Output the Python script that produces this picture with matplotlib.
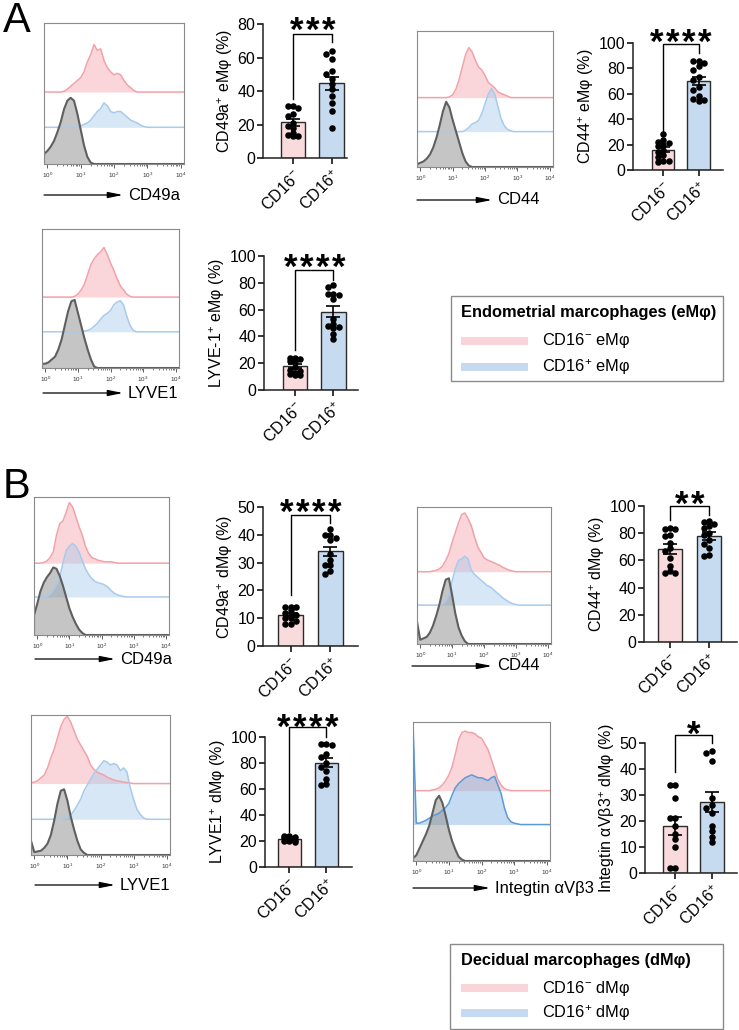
import numpy as np
import matplotlib
matplotlib.use("Agg")
import matplotlib.pyplot as plt
from matplotlib.patches import Rectangle

plt.rcParams['font.family'] = ['Liberation Sans', 'DejaVu Sans']
plt.rcParams['mathtext.fontset'] = 'custom'
plt.rcParams['mathtext.rm'] = 'Liberation Sans'
plt.rcParams['mathtext.it'] = 'Liberation Sans:italic'
plt.rcParams['mathtext.bf'] = 'Liberation Sans:bold'

W, H = 739, 1030

groups = ["CD16$^{-}$", "CD16$^{+}$"]

# percent positive cells per donor
a_cd49a_neg = [31, 31, 30, 26, 25, 21, 19, 18, 15, 14, 13, 13]
a_cd49a_pos = [64, 62, 59, 52, 50, 47, 44, 41, 37, 33, 28, 18]
a_cd44_neg = [28, 24, 22, 21, 20, 19, 16, 14, 12, 10, 7, 7, 6]
a_cd44_pos = [86, 86, 84, 82, 79, 73, 71, 65, 63, 58, 56, 55, 54]
a_lyve_neg = [24, 24, 23, 23, 22, 21, 17, 15, 14, 13, 12, 11, 11]
a_lyve_pos = [78, 77, 72, 72, 71, 68, 53, 49, 48, 47, 46, 42, 38]
b_cd49a_neg = [14, 14, 14, 13, 12, 11, 11, 10, 10, 9, 8, 8]
b_cd49a_pos = [42, 40, 40, 39, 38, 33, 31, 29, 29, 27, 26]
b_cd44_neg = [84, 83, 83, 79, 78, 73, 69, 67, 62, 56, 52, 51, 51]
b_cd44_pos = [89, 88, 87, 85, 84, 80, 79, 75, 72, 69, 64, 63]
b_lyve_neg = [24, 24, 23, 23, 22, 22, 21, 21, 20, 20, 19]
b_lyve_pos = [95, 95, 94, 87, 85, 80, 77, 74, 68, 64, 63]
b_itg_neg = [34, 34, 29, 21, 21, 18, 15, 13, 10, 2, 2]
b_itg_pos = [47, 46, 43, 29, 26, 25, 23, 18, 16, 14, 12]

stars = [3, 4, 4, 4, 2, 4, 1]

# flow histograms: start (log10 units, step 0.1) and heights (fraction of box)
a1_pink_x0, a1_pink = 0.4, [0, .005, .02, .04, .06, .08, .10, .14, .21, .26, .33, .29, .30, .22, .17, .14, .12, .13, .12, .08, .05, .03, .01, 0]
a1_blue_x0, a1_blue = 0.9, [0, .01, .02, .03, .05, .08, .11, .13, .17, .15, .11, .10, .11, .11, .09, .07, .05, .04, .03, .015, .005, 0]
a1_gray_x0, a1_gray = -0.1, [.07, .09, .12, .16, .22, .29, .38, .44, .46, .44, .35, .24, .13, .05, .01, 0]

a2_pink_x0, a2_pink = 0.8, [0, .005, .02, .06, .13, .22, .31, .36, .33, .27, .22, .20, .16, .11, .09, .07, .04, .03, .02, .01, 0]
a2_blue_x0, a2_blue = 1.3, [0, .01, .03, .055, .065, .08, .13, .20, .27, .31, .27, .18, .09, .04, .015, .005, 0]
a2_gray_x0, a2_gray = -0.1, [.02, .03, .04, .06, .09, .14, .21, .30, .40, .47, .43, .34, .26, .18, .10, .04, .01, 0]

a3_pink_x0, a3_pink = 0.8, [0, .005, .02, .05, .09, .16, .23, .27, .30, .32, .35, .30, .24, .19, .13, .08, .05, .02, .005, 0]
a3_blue_x0, a3_blue = 1.1, [0, .005, .01, .02, .04, .06, .09, .115, .13, .15, .19, .21, .22, .19, .11, .045, .01, 0]
a3_gray_x0, a3_gray = -0.1, [.03, .03, .04, .06, .08, .13, .20, .30, .40, .47, .48, .39, .30, .21, .13, .06, .01, 0]

b1_pink_x0, b1_pink = 0.1, [0, .005, .015, .04, .08, .20, .28, .30, .36, .43, .40, .33, .26, .20, .12, .07, .04, .03, .02, .015, .01, .01, .01, .005, 0]
b1_blue_x0, b1_blue = 0.2, [0, .005, .02, .05, .09, .14, .24, .33, .36, .38, .36, .32, .26, .20, .16, .13, .11, .10, .095, .085, .07, .045, .026, .015, .008, .003, 0]
b1_gray_x0, b1_gray = -0.1, [.14, .22, .31, .37, .41, .44, .48, .47, .42, .35, .27, .19, .13, .08, .04, .015, 0]

b2_pink_x0, b2_pink = 0.3, [0, .005, .01, .02, .04, .08, .13, .21, .28, .35, .41, .42, .38, .33, .25, .18, .14, .10, .085, .075, .065, .055, .045, .03, .02, .01, .005, 0]
b2_blue_x0, b2_blue = 0.6, [0, .01, .03, .08, .17, .26, .32, .33, .35, .33, .25, .22, .20, .18, .16, .14, .13, .11, .09, .07, .05, .035, .02, .01, .005, 0]
b2_gray_x0, b2_gray = -0.1, [.16, .03, .04, .05, .08, .13, .20, .28, .38, .46, .47, .35, .22, .12, .06, .02, 0]

b3_pink_x0, b3_pink = -0.1, [.005, .01, .02, .04, .06, .11, .18, .24, .32, .40, .45, .47, .43, .37, .31, .27, .23, .19, .13, .10, .08, .07, .06, .045, .035, .025, .02, .015, .01, .007, .004, 0]
b3_blue_x0, b3_blue = 0.8, [0, .005, .01, .03, .06, .10, .14, .20, .24, .28, .32, .35, .38, .41, .40, .38, .39, .38, .34, .36, .33, .22, .14, .07, .035, .01, 0]
b3_gray_x0, b3_gray = -0.1, [.10, .02, .025, .03, .05, .08, .14, .24, .36, .45, .46, .38, .27, .18, .10, .04, .015, 0]

b4_pink_x0, b4_pink = 0.4, [0, .005, .01, .02, .04, .07, .11, .17, .26, .36, .41, .42, .41, .41, .40, .38, .37, .33, .29, .22, .15, .08, .04, .015, .005, 0]
b4_blue_x0, b4_blue = -0.1, [.72, .01, .01, .02, .03, .045, .06, .07, .08, .10, .12, .15, .21, .26, .29, .31, .33, .34, .35, .34, .33, .33, .32, .31, .33, .34, .28, .22, .12, .05, .02, .01, .005, 0]
b4_gray_x0, b4_gray = -0.1, [.02, .04, .09, .14, .19, .25, .34, .43, .46, .41, .32, .22, .14, .08, .03, .01, 0]

XL = (-0.1, 4.1)
PINK_LINE, PINK_FILL = '#f3a1a7', '#f4a6ad'
BLUE_LINE, BLUE_FILL = '#a6cbee', '#9ec5ea'
GRAY_LINE, GRAY_FILL = '#5f5f5f', '#8c8c8c'

fig = plt.figure(figsize=(W / 100, H / 100), dpi=100)


def px_axes(x0, y0, x1, y1):
    return fig.add_axes([x0 / W, 1 - y1 / H, (x1 - x0) / W, (y1 - y0) / H])


def curve(ax, x0, vals, base, line, fill, alpha, lw=1.1):
    xs = [XL[0]] + list(x0 + 0.1 * np.arange(len(vals))) + [XL[1]]
    ys = np.array([0] + list(vals) + [0]) + base
    ax.fill_between(xs, base, ys, color=fill, alpha=alpha, lw=0)
    ax.plot(xs, ys, color=line, lw=lw, solid_joinstyle='round')


def hist_panel(box, pink, blue, gray, bases=(0.5, 0.255), blue_style=None):
    ax = px_axes(*box)
    bl, bf, ba = blue_style or (BLUE_LINE, BLUE_FILL, 0.4)
    curve(ax, pink[0], pink[1], bases[0], PINK_LINE, PINK_FILL, 0.45)
    curve(ax, blue[0], blue[1], bases[1], bl, bf, ba)
    curve(ax, gray[0], gray[1], 0, GRAY_LINE, GRAY_FILL, 0.5, lw=1.5)
    ax.set_xlim(*XL)
    ax.set_ylim(0, 0.98)
    ax.set_yticks([])
    ax.set_xticks(range(5))
    ax.set_xticklabels(['10$^{%d}$' % k for k in range(5)], fontsize=4.5, color='#333333')
    minors = [k + np.log10(m) for k in range(4) for m in range(2, 10)]
    ax.set_xticks(minors, minor=True)
    ax.tick_params(axis='x', which='major', length=3, width=0.6, color='#444444', pad=2)
    ax.tick_params(axis='x', which='minor', length=1.5, width=0.5, color='#444444')
    for s in ax.spines.values():
        s.set_color('#8a8a8a')
        s.set_linewidth(0.8)
    return ax


def swarm_x(vals, center, sx, sy, d, half_width):
    placed = []
    out = [0.0] * len(vals)
    kmax = int(half_width // d)
    cands = [0]
    for k in range(1, kmax + 1):
        cands += [-k, k]
    for i in np.argsort(vals)[::-1]:
        ypx = vals[i] * sy
        best, best_gap = 0, -1
        for k in cands:
            xpx = k * d
            gap = min([np.hypot(xpx - a, ypx - b) for a, b in placed] or [99])
            if gap >= 0.92 * d:
                best = xpx
                break
            if gap > best_gap:
                best, best_gap = xpx, gap
        placed.append((best, ypx))
        out[i] = center + best / sx
    return out


def bar_panel(rect, ylim, step, xlim, neg, pos, ylabel, nstar, bracket, star_px):
    x0, y0, x1, y1 = rect
    ax = px_axes(x0, y0, x1, y1)
    width = 0.63
    sx = (x1 - x0) / (xlim[1] - xlim[0])
    sy = (y1 - y0) / ylim
    for i, (vals, col) in enumerate([(neg, '#f9dadd'), (pos, '#c6daf0')]):
        v = np.array(vals, float)
        m = v.mean()
        sem = v.std(ddof=1) / np.sqrt(len(v))
        ax.bar(i, m, width=width, color=col, edgecolor='#2b2b2b', lw=1.0, zorder=1)
        ax.errorbar(i, m, yerr=sem, color='k', capsize=5, elinewidth=1.2, capthick=1.2, zorder=3)
        xs = swarm_x(list(v), i, sx, sy, 5.4, width * sx / 2 - 2)
        ax.scatter(xs, v, s=22, color='k', zorder=4, lw=0)
    ax.set_xlim(*xlim)
    ax.set_ylim(0, ylim)
    ax.set_yticks(np.arange(0, ylim + 1, step))
    ax.set_xticks([0, 1])
    ax.set_xticklabels(groups, rotation=45, ha='right', rotation_mode='anchor', fontsize=11.5)
    ax.tick_params(axis='both', length=4, width=1.1, labelsize=11.5, pad=1.5)
    ax.tick_params(axis='x', pad=3)
    for s in ['top', 'right']:
        ax.spines[s].set_visible(False)
    for s in ['left', 'bottom']:
        ax.spines[s].set_linewidth(1.1)
        ax.spines[s].set_color('#222222')
    ax.set_ylabel(ylabel, fontsize=11.5, labelpad=2)
    l, top, r = bracket
    ax.plot([0, 0, 1, 1], [l, top, top, r], color='k', lw=1.0, clip_on=False, zorder=5)
    # significance stars, one glyph every 16 px
    fs = 25
    base_y = (y1 - star_px - 0.50 * fs * 100 / 72) / sy
    for j in range(nstar):
        xs = 0.5 + (j - (nstar - 1) / 2) * 16 / sx
        ax.text(xs, base_y, '*', ha='center', va='baseline', fontsize=fs,
                fontweight='bold', clip_on=False)
    return ax


# overlay in pixel coordinates for arrows, letters, legends
ov = fig.add_axes([0, 0, 1, 1])
ov.set_xlim(0, W)
ov.set_ylim(H, 0)
ov.axis('off')

# ---- panel A ----
hist_panel((44, 23, 184, 164), (a1_pink_x0, a1_pink), (a1_blue_x0, a1_blue), (a1_gray_x0, a1_gray))
hist_panel((417, 31, 553, 167), (a2_pink_x0, a2_pink), (a2_blue_x0, a2_blue), (a2_gray_x0, a2_gray))
hist_panel((42, 229, 179, 368), (a3_pink_x0, a3_pink), (a3_blue_x0, a3_blue), (a3_gray_x0, a3_gray))

bar_panel((263, 24, 347, 158), 80, 20, (-0.78, 1.40), a_cd49a_neg, a_cd49a_pos,
          "CD49a$^{+}$ eMφ (%)", stars[0], (35, 74, 69), 23)
bar_panel((633, 43, 723, 170), 100, 20, (-0.85, 1.69), a_cd44_neg, a_cd44_pos,
          "CD44$^{+}$ eMφ (%)", stars[1], (29, 99, 92), 35)
bar_panel((264, 256, 358, 390), 100, 20, (-0.81, 1.64), a_lyve_neg, a_lyve_pos,
          "LYVE-1$^{+}$ eMφ (%)", stars[2], (30, 89.5, 82), 260)

# ---- panel B ----
hist_panel((34, 497, 169, 635), (b1_pink_x0, b1_pink), (b1_blue_x0, b1_blue), (b1_gray_x0, b1_gray), bases=(0.51, 0.27))
hist_panel((417, 507, 551, 644), (b2_pink_x0, b2_pink), (b2_blue_x0, b2_blue), (b2_gray_x0, b2_gray), bases=(0.517, 0.278))
hist_panel((31, 715, 170, 855), (b3_pink_x0, b3_pink), (b3_blue_x0, b3_blue), (b3_gray_x0, b3_gray), bases=(0.50, 0.25))
hist_panel((413, 722, 550, 861), (b4_pink_x0, b4_pink), (b4_blue_x0, b4_blue), (b4_gray_x0, b4_gray), bases=(0.496, 0.257),
           blue_style=('#5b9bd5', '#7fb0e0', 0.45))

bar_panel((263, 507, 358, 646), 50, 10, (-0.69, 1.69), b_cd49a_neg, b_cd49a_pos,
          "CD49a$^{+}$ dMφ (%)", stars[3], (18.3, 47.1, 44.2), 505)
bar_panel((644, 506, 737, 642), 100, 20, (-0.67, 1.72), b_cd44_neg, b_cd44_pos,
          "CD44$^{+}$ dMφ (%)", stars[4], (89.7, 100, 93.4), 497)
bar_panel((265, 737, 352, 867), 100, 20, (-0.66, 1.69), b_lyve_neg, b_lyve_pos,
          "LYVE1$^{+}$ dMφ (%)", stars[5], (27, 107.7, 100), 720)
bar_panel((645, 743, 737, 873), 50, 10, (-0.81, 1.68), b_itg_neg, b_itg_pos,
          "Integtin αVβ3$^{+}$ dMφ (%)", stars[6], (38.8, 53, 50), 727)

# axis arrows under histograms
arrows = [(44, 123, 195, "CD49a"), (417, 492, 200, "CD44"), (43, 123, 393, "LYVE1"),
          (35, 115, 659, "CD49a"), (412, 492, 666, "CD44"), (35, 115, 885, "LYVE1"),
          (413, 490, 888, "Integtin αVβ3")]
for xa, xb, y, lab in arrows:
    ov.annotate('', xy=(xb, y), xytext=(xa, y),
                arrowprops=dict(arrowstyle='-|>,head_length=0.9,head_width=0.18', lw=0.9,
                                color='k', shrinkA=0, shrinkB=0, mutation_scale=10))
    ov.text(xb + 5, y, lab, fontsize=12, va='center', ha='left')

ov.text(3, 32, "A", fontsize=30, va='baseline', ha='left')
ov.text(3, 498, "B", fontsize=30, va='baseline', ha='left')


def legend_box(x0, y0, x1, y1, title, rows, labels):
    ov.add_patch(Rectangle((x0, y0), x1 - x0, y1 - y0, fill=False, ec='#8a8a8a', lw=1.0))
    ov.text(461, rows[0], title, fontsize=11.8, fontweight='bold', va='center', ha='left')
    for yy, col, lab in zip(rows[1:], ['#f9d5d9', '#c5daf1'], labels):
        ov.add_patch(Rectangle((461, yy - 4), 67, 8, color=col, lw=0))
        ov.text(542, yy, lab, fontsize=11.8, va='center', ha='left')


legend_box(451, 296, 723, 381, "Endometrial marcophages (eMφ)", (313, 341, 367),
           ["CD16$^{-}$ eMφ", "CD16$^{+}$ eMφ"])
legend_box(450, 944, 723, 1029, "Decidual marcophages (dMφ)", (960, 988, 1013),
           ["CD16$^{-}$ dMφ", "CD16$^{+}$ dMφ"])

fig.savefig("out.png", dpi=100)
